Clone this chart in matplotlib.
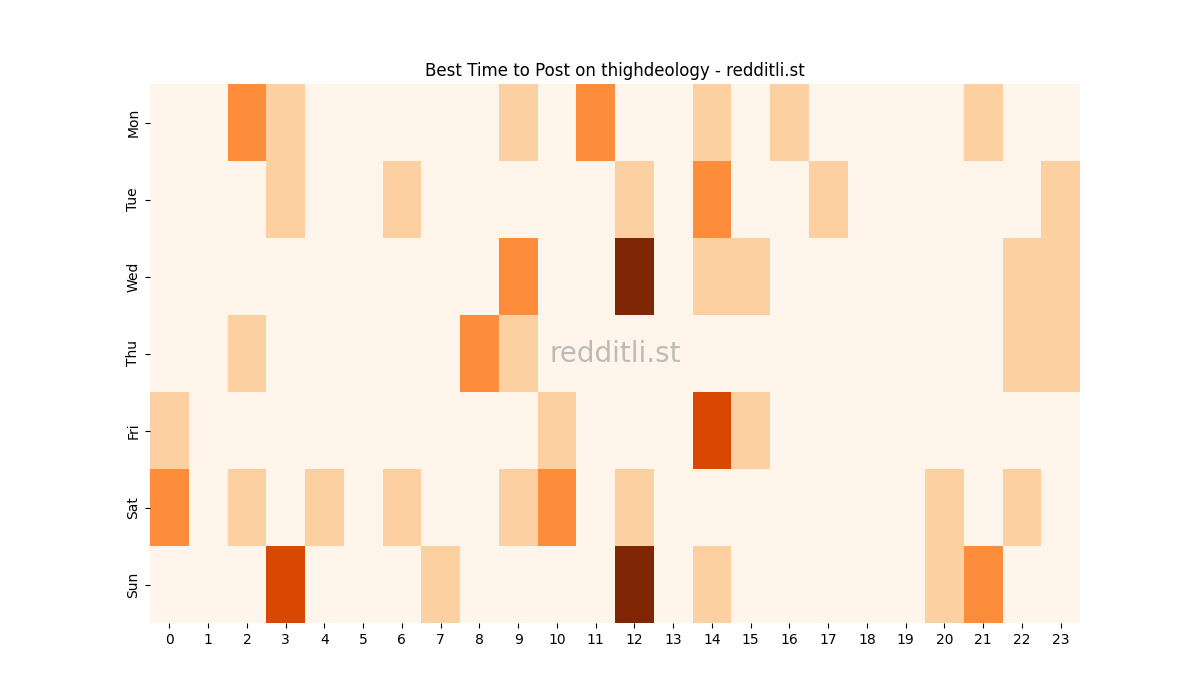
import matplotlib
matplotlib.use("Agg")
import matplotlib.pyplot as plt
import seaborn as sns
import numpy as np

days = ["Mon", "Tue", "Wed", "Thu", "Fri", "Sat", "Sun"]
hours = list(range(24))

mon = [0,0,2,1,0,0,0,0,0,1,0,2,0,0,1,0,1,0,0,0,0,1,0,0]
tue = [0,0,0,1,0,0,1,0,0,0,0,0,1,0,2,0,0,1,0,0,0,0,0,1]
wed = [0,0,0,0,0,0,0,0,0,2,0,0,4,0,1,1,0,0,0,0,0,0,1,1]
thu = [0,0,1,0,0,0,0,0,2,1,0,0,0,0,0,0,0,0,0,0,0,0,1,1]
fri = [1,0,0,0,0,0,0,0,0,0,1,0,0,0,3,1,0,0,0,0,0,0,0,0]
sat = [2,0,1,0,1,0,1,0,0,1,2,0,1,0,0,0,0,0,0,0,1,0,1,0]
sun = [0,0,0,3,0,0,0,1,0,0,0,0,4,0,1,0,0,0,0,0,1,2,0,0]

data = np.array([mon, tue, wed, thu, fri, sat, sun])

fig, ax = plt.subplots(figsize=(12, 7), dpi=100)
sns.heatmap(data, cmap="Oranges", cbar=False, ax=ax,
            xticklabels=hours, yticklabels=days)
ax.set_title("Best Time to Post on thighdeology - redditli.st")
plt.setp(ax.get_yticklabels(), rotation=90, va="center")
plt.setp(ax.get_xticklabels(), rotation=0)
ax.text(0.5, 0.5, "redditli.st", transform=ax.transAxes, ha="center", va="center",
        fontsize=20, color="gray", alpha=0.5)
fig.savefig("out.png", dpi=100)
